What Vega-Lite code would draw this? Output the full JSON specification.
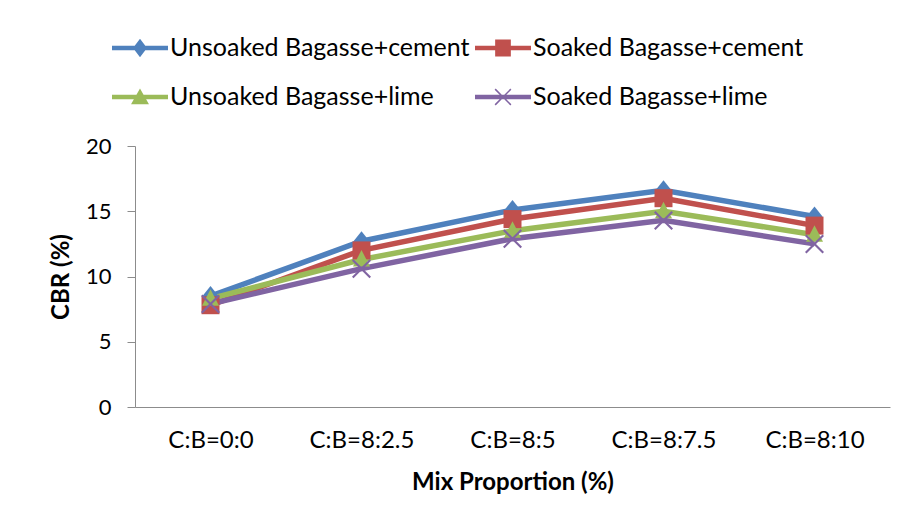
{
  "$schema": "https://vega.github.io/schema/vega-lite/v6.json",
  "width": 755,
  "height": 261,
  "autosize": {"type": "none"},
  "padding": {"left": 135, "top": 146, "right": 17, "bottom": 117},
  "background": "white",
  "config": {
    "view": {"stroke": null},
    "font": "Lato",
    "axis": {"grid": false, "domainColor": "#8c8c8c", "tickColor": "#8c8c8c", "labelColor": "black", "titleColor": "black", "labelFont": "Lato", "titleFont": "Lato", "labelFontSize": 22, "titleFontSize": 24, "titleFontWeight": "bold", "labelFontWeight": "normal"},
    "legend": {
      "orient": "none",
      "legendX": -23,
      "legendY": -126,
      "columns": 2,
      "direction": "horizontal",
      "symbolSize": 3136,
      "symbolStrokeWidth": 0,
      "symbolOpacity": 1,
      "labelFont": "Lato",
      "labelFontSize": 25,
      "labelColor": "black",
      "labelOffset": 2,
      "labelLimit": 400,
      "columnPadding": 5,
      "rowPadding": 8
    }
  },
  "data": {
    "values": [
      {"mix": "C:B=0:0", "series": "Unsoaked Bagasse+cement", "cbr": 8.5},
      {"mix": "C:B=8:2.5", "series": "Unsoaked Bagasse+cement", "cbr": 12.7},
      {"mix": "C:B=8:5", "series": "Unsoaked Bagasse+cement", "cbr": 15.1},
      {"mix": "C:B=8:7.5", "series": "Unsoaked Bagasse+cement", "cbr": 16.6},
      {"mix": "C:B=8:10", "series": "Unsoaked Bagasse+cement", "cbr": 14.6},
      {"mix": "C:B=0:0", "series": "Soaked Bagasse+cement", "cbr": 7.8},
      {"mix": "C:B=8:2.5", "series": "Soaked Bagasse+cement", "cbr": 12.0},
      {"mix": "C:B=8:5", "series": "Soaked Bagasse+cement", "cbr": 14.4},
      {"mix": "C:B=8:7.5", "series": "Soaked Bagasse+cement", "cbr": 16.0},
      {"mix": "C:B=8:10", "series": "Soaked Bagasse+cement", "cbr": 13.9},
      {"mix": "C:B=0:0", "series": "Unsoaked Bagasse+lime", "cbr": 8.3},
      {"mix": "C:B=8:2.5", "series": "Unsoaked Bagasse+lime", "cbr": 11.3},
      {"mix": "C:B=8:5", "series": "Unsoaked Bagasse+lime", "cbr": 13.5},
      {"mix": "C:B=8:7.5", "series": "Unsoaked Bagasse+lime", "cbr": 15.0},
      {"mix": "C:B=8:10", "series": "Unsoaked Bagasse+lime", "cbr": 13.2},
      {"mix": "C:B=0:0", "series": "Soaked Bagasse+lime", "cbr": 7.9},
      {"mix": "C:B=8:2.5", "series": "Soaked Bagasse+lime", "cbr": 10.6},
      {"mix": "C:B=8:5", "series": "Soaked Bagasse+lime", "cbr": 12.9},
      {"mix": "C:B=8:7.5", "series": "Soaked Bagasse+lime", "cbr": 14.3},
      {"mix": "C:B=8:10", "series": "Soaked Bagasse+lime", "cbr": 12.5}
    ]
  },
  "encoding": {
    "x": {
      "field": "mix", "type": "ordinal",
      "sort": ["C:B=0:0", "C:B=8:2.5", "C:B=8:5", "C:B=8:7.5", "C:B=8:10"],
      "scale": {"type": "point", "padding": 0.5},
      "axis": {"title": "Mix Proportion (%)", "labelAngle": 0, "ticks": false, "labelFontSize": 24, "labelPadding": 21, "titlePadding": 18}
    },
    "y": {
      "field": "cbr", "type": "quantitative",
      "scale": {"domain": [0, 20]},
      "axis": {"title": "CBR (%)", "values": [0, 5, 10, 15, 20], "tickSize": 8, "labelPadding": 16, "titlePadding": 12}
    }
  },
  "layer": [
    {
      "mark": {"type": "point", "filled": true, "opacity": 1, "size": 0},
      "encoding": {
        "color": {
          "field": "series", "type": "nominal",
          "scale": {
            "domain": ["Unsoaked Bagasse+cement", "Soaked Bagasse+cement", "Unsoaked Bagasse+lime", "Soaked Bagasse+lime"],
            "range": ["#4F81BD", "#C0504D", "#9BBB59", "#8064A2"]
          },
          "legend": {"title": null}
        },
        "shape": {
          "field": "series", "type": "nominal",
          "scale": {
            "domain": ["Unsoaked Bagasse+cement", "Soaked Bagasse+cement", "Unsoaked Bagasse+lime", "Soaked Bagasse+lime"],
            "range": [
              "M-1,-0.08H1V0.08H-1Z M0,-0.33L0.25,0L0,0.33L-0.25,0Z",
              "M-1,-0.08H1V0.08H-1Z M-0.28,-0.3H0.28V0.3H-0.28Z",
              "M-1,-0.08H1V0.08H-1Z M0,-0.3L0.32,0.26H-0.32Z",
              "M-1,-0.08H1V0.08H-1Z M-0.3,-0.26L-0.26,-0.3L0,-0.04L0.26,-0.3L0.3,-0.26L0.04,0L0.3,0.26L0.26,0.3L0,0.04L-0.26,0.3L-0.3,0.26L-0.04,0Z"
            ]
          },
          "legend": {"title": null}
        }
      }
    },
    {
      "mark": {"type": "line", "strokeWidth": 5.5},
      "encoding": {
        "stroke": {
          "field": "series", "type": "nominal",
          "scale": {
            "domain": ["Unsoaked Bagasse+cement", "Soaked Bagasse+cement", "Unsoaked Bagasse+lime", "Soaked Bagasse+lime"],
            "range": ["#4F81BD", "#C0504D", "#9BBB59", "#8064A2"]
          },
          "legend": null
        },
        "detail": {"field": "series"}
      }
    },
    {
      "transform": [{"filter": "datum.series === 'Unsoaked Bagasse+cement'"}],
      "mark": {"type": "point", "filled": true, "opacity": 1, "size": 400, "color": "#4F81BD", "shape": "M0,-1L0.8,0L0,1L-0.8,0Z"}
    },
    {
      "transform": [{"filter": "datum.series === 'Soaked Bagasse+cement'"}],
      "mark": {"type": "point", "filled": true, "opacity": 1, "size": 400, "color": "#C0504D", "shape": "M-0.9,-0.9H0.9V0.9H-0.9Z"}
    },
    {
      "transform": [{"filter": "datum.series === 'Unsoaked Bagasse+lime'"}],
      "mark": {"type": "point", "filled": true, "opacity": 1, "size": 400, "color": "#9BBB59", "shape": "M0,-0.95L0.85,0.7H-0.85Z"}
    },
    {
      "transform": [{"filter": "datum.series === 'Soaked Bagasse+lime'"}],
      "mark": {"type": "point", "filled": true, "opacity": 1, "size": 400, "color": "#8064A2", "shape": "M-0.95,-0.8L-0.8,-0.95L0,-0.15L0.8,-0.95L0.95,-0.8L0.15,0L0.95,0.8L0.8,0.95L0,0.15L-0.8,0.95L-0.95,0.8L-0.15,0Z"}
    }
  ]
}
